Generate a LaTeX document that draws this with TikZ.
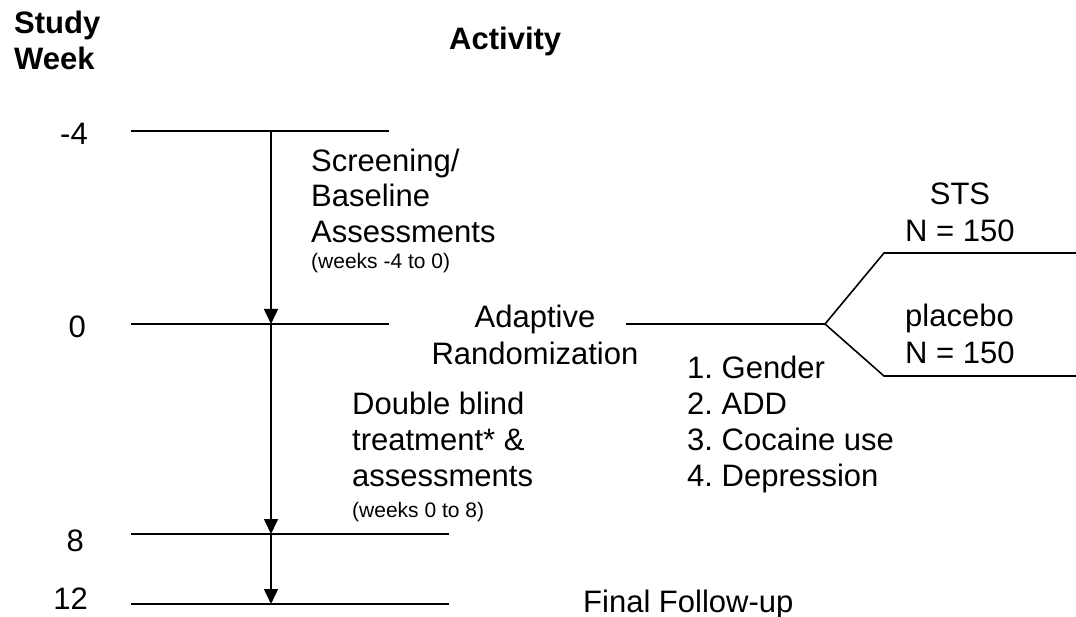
\documentclass[tikz,border=0pt]{standalone}
\usepackage{fontspec}
\setmainfont{Liberation Sans}
\usetikzlibrary{arrows.meta}
\frenchspacing
\begin{document}
\begin{tikzpicture}[x=1pt,y=-1pt,
  every node/.style={inner sep=0pt},
  txt/.style={anchor=base west, font=\fontsize{31}{36}\selectfont},
  ctxt/.style={anchor=base, font=\fontsize{31}{36}\selectfont},
  rtxt/.style={anchor=base east, font=\fontsize{31}{36}\selectfont},
  stxt/.style={anchor=base west, font=\fontsize{21}{25}\selectfont},
  head/.style={anchor=base west, font=\fontsize{31}{36}\selectfont\bfseries},
  tline/.style={line width=1.6pt},
  arr/.style={line width=1.6pt, -{Triangle[width=14pt,length=15pt]}}]
\useasboundingbox (0,0) rectangle (1076,617);
% headings
\node[head] (study) at (14,34) {Study};
\node[head] (week) at (14,70) {Week};
\node[head] (activity) at (449,50) {Activity};
% week labels
\node[rtxt] (lm4) at (88,145) {-4};
\node[rtxt] (l0) at (86,338) {0};
\node[rtxt] (l8) at (84,551) {8};
\node[rtxt] (l12) at (88,609) {12};
% horizontal lines
\coordinate (m4L) at (131,131); \coordinate (m4R) at (389,131);
\coordinate (z0L) at (131,324); \coordinate (z0R) at (389,324);
\coordinate (e8L) at (131,534); \coordinate (e8R) at (449,534);
\coordinate (t12L) at (131,604); \coordinate (t12R) at (449,604);
\draw[tline] (m4L) -- (m4R);
\draw[tline] (z0L) -- (z0R);
\draw[tline] (e8L) -- (e8R);
\draw[tline] (t12L) -- (t12R);
% vertical arrows
\coordinate (vA) at (271,131); \coordinate (vB) at (271,324);
\coordinate (vC) at (271,534); \coordinate (vD) at (271,604);
\draw[arr] (vA) -- (vB);
\draw[arr] (vB) -- (vC);
\draw[arr] (vC) -- (vD);
% screening block
\node[txt] (s1) at (311,172) {Screening/};
\node[txt] (s2) at (311,207) {Baseline};
\node[txt] (s3) at (311,243) {Assessments};
\node[stxt] (s4) at (311,269) {(weeks -4 to 0)};
% adaptive randomization
\node[ctxt] (ar1) at (535,328) {Adaptive};
\node[ctxt] (ar2) at (535,365) {Randomization};
% double blind block
\node[txt] (d1) at (352,414) {Double blind};
\node[txt] (d2) at (352,450) {treatment* \&};
\node[txt] (d3) at (352,486) {assessments};
\node[stxt] (d4) at (352,517) {(weeks 0 to 8)};
% stratification list
\node[txt] (g1) at (687,378) {1. Gender};
\node[txt] (g2) at (687,414) {2. ADD};
\node[txt] (g3) at (687,450) {3. Cocaine use};
\node[txt] (g4) at (687,486) {4. Depression};
% branch
\coordinate (br0) at (626,324); \coordinate (fork) at (825,324);
\coordinate (upA) at (884,253); \coordinate (upB) at (1076,253);
\coordinate (loA) at (884,376); \coordinate (loB) at (1076,376);
\draw[tline] (br0) -- (fork) -- (upA) -- (upB);
\draw[tline] (fork) -- (loA) -- (loB);
\node[ctxt] (sts) at (960,205) {STS};
\node[txt] (n1) at (905,242) {N = 150};
\node[txt] (pl) at (905,327) {placebo};
\node[txt] (n2) at (905,363) {N = 150};
% final
\node[txt] (fin) at (583,612) {Final Follow-up};
\end{tikzpicture}
\end{document}
